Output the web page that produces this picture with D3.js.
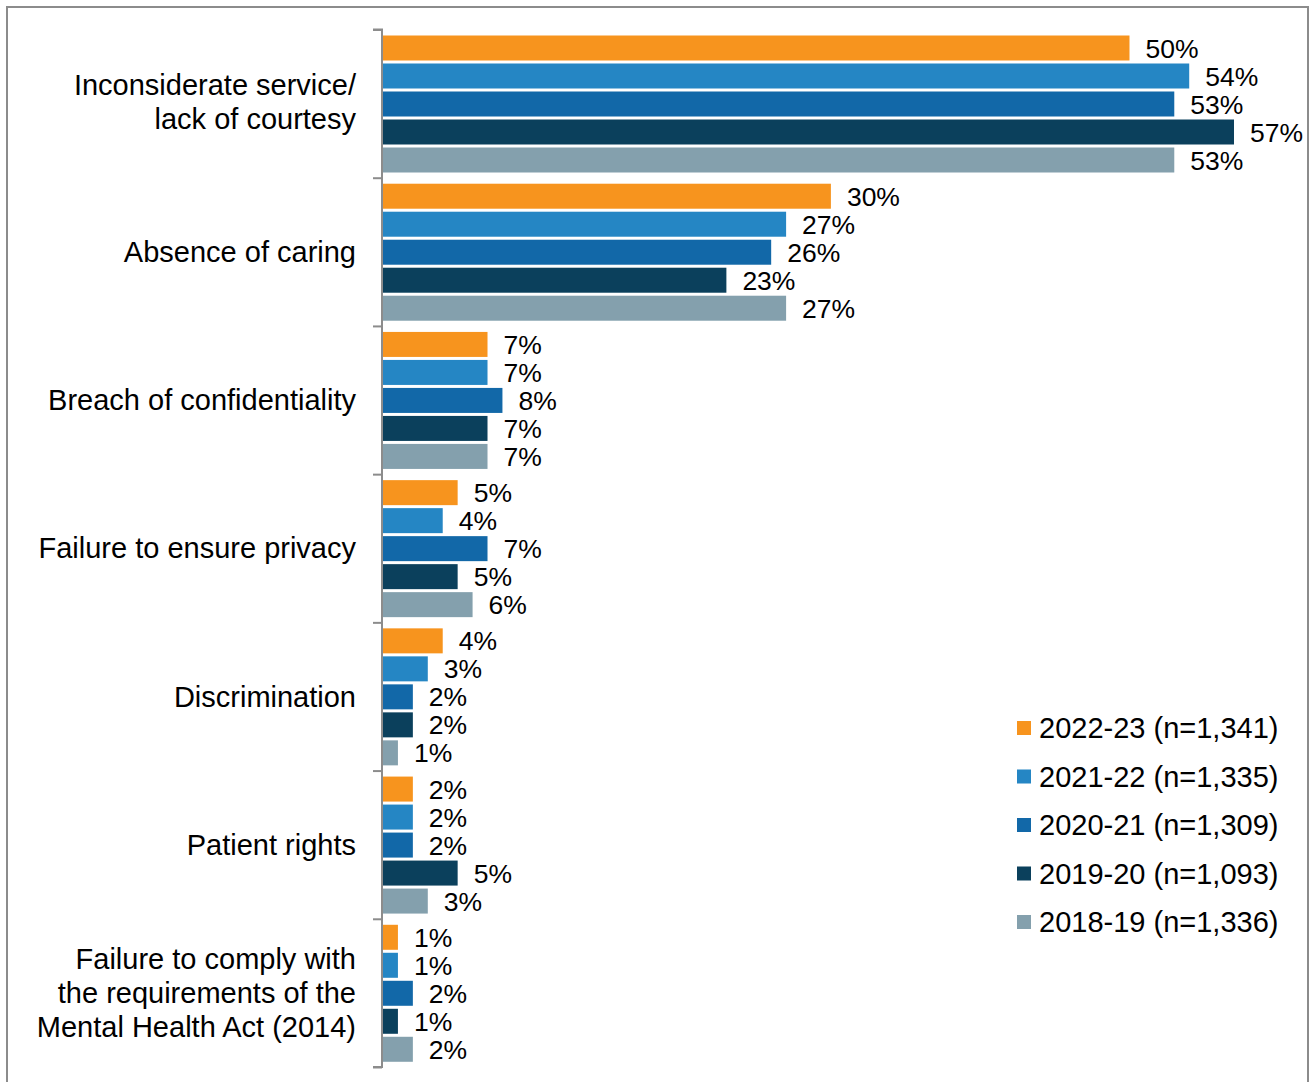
<!DOCTYPE html>
<html>
<head>
<meta charset="utf-8">
<script src="https://cdn.jsdelivr.net/npm/d3@7"></script>
<style>
  html, body { margin: 0; padding: 0; background: #fff; }
  svg { display: block; font-family: "Liberation Sans", Arial, sans-serif; }
</style>
</head>
<body>
<script>
// ---- data ----
const categories = [
  ["Inconsiderate service/", "lack of courtesy"],
  ["Absence of caring"],
  ["Breach of confidentiality"],
  ["Failure to ensure privacy"],
  ["Discrimination"],
  ["Patient rights"],
  ["Failure to comply with", "the requirements of the", "Mental Health Act (2014)"]
];
const seriesNames = [
  "2022-23 (n=1,341)",
  "2021-22 (n=1,335)",
  "2020-21 (n=1,309)",
  "2019-20 (n=1,093)",
  "2018-19 (n=1,336)"
];
const seriesColors = ["#F7941E", "#2586C4", "#1268A8", "#0B405C", "#84A0AD"];
const v2022 = [50, 30, 7, 5, 4, 2, 1];
const v2021 = [54, 27, 7, 4, 3, 2, 1];
const v2020 = [53, 26, 8, 7, 2, 2, 2];
const v2019 = [57, 23, 7, 5, 2, 5, 1];
const v2018 = [53, 27, 7, 6, 1, 3, 2];
const seriesValues = [v2022, v2021, v2020, v2019, v2018];

// ---- layout ----
const W = 1312, H = 1082;
const svg = d3.select("body").append("svg").attr("width", W).attr("height", H);

svg.append("rect").attr("x", 7).attr("y", 7).attr("width", 1301).attr("height", 1100)
  .attr("fill", "none").attr("stroke", "#8c8c8c").attr("stroke-width", 2);

const x0 = 383, y0 = 29.5, y1 = 1067;
const x = d3.scaleLinear().domain([0, 57]).range([x0, 1234]);
const yCat = d3.scaleBand().domain(d3.range(categories.length)).range([y0, y1]).padding(0);
const ySer = d3.scaleBand().domain(d3.range(seriesNames.length))
  .range([6, 6 + 137]).paddingInner(3 / 28).paddingOuter(0);

// bars
const groups = svg.append("g").selectAll("g").data(categories).join("g")
  .attr("transform", (d, i) => `translate(0,${yCat(i)})`);

groups.each(function (cat, ci) {
  const g = d3.select(this);
  seriesValues.forEach((vals, si) => {
    const v = vals[ci];
    g.append("rect")
      .attr("x", x(0)).attr("y", ySer(si))
      .attr("width", x(v) - x(0)).attr("height", ySer.bandwidth())
      .attr("fill", seriesColors[si]);
    g.append("text")
      .attr("x", x(v) + 16).attr("y", ySer(si) + ySer.bandwidth() / 2)
      .attr("dy", "0.36em").attr("font-size", 26.5).attr("fill", "#000")
      .text(v + "%");
  });
  // category label
  const lh = 34;
  const n = cat.length;
  const cy = yCat.bandwidth() / 2;
  const t = g.append("text").attr("text-anchor", "end").attr("font-size", 29).attr("fill", "#000");
  cat.forEach((line, li) => {
    t.append("tspan").attr("x", 356).attr("y", cy + (li - (n - 1) / 2) * lh - (n === 2 ? 1.5 : 0))
      .attr("dy", "0.35em").text(line);
  });
});

// axis
const axis = d3.axisLeft(d3.scaleLinear().domain([0, categories.length]).range([y0, y1]))
  .tickValues(d3.range(categories.length + 1)).tickSize(9).tickFormat("");
const ga = svg.append("g").attr("transform", `translate(${x0 - 1},0)`).call(axis);
ga.selectAll("path, line").attr("stroke", "#8c8c8c").attr("stroke-width", 2);
ga.select("path").attr("d", `M-9,${y0}H0V${y1}H-9`);

// legend
const lg = svg.append("g");
seriesNames.forEach((name, i) => {
  const cy = 728 + i * 48.5;
  lg.append("rect").attr("x", 1017).attr("y", cy - 7).attr("width", 14).attr("height", 14)
    .attr("fill", seriesColors[i]);
  lg.append("text").attr("x", 1039).attr("y", cy).attr("dy", "0.36em")
    .attr("font-size", 29).attr("fill", "#000").text(name);
});
</script>
</body>
</html>
